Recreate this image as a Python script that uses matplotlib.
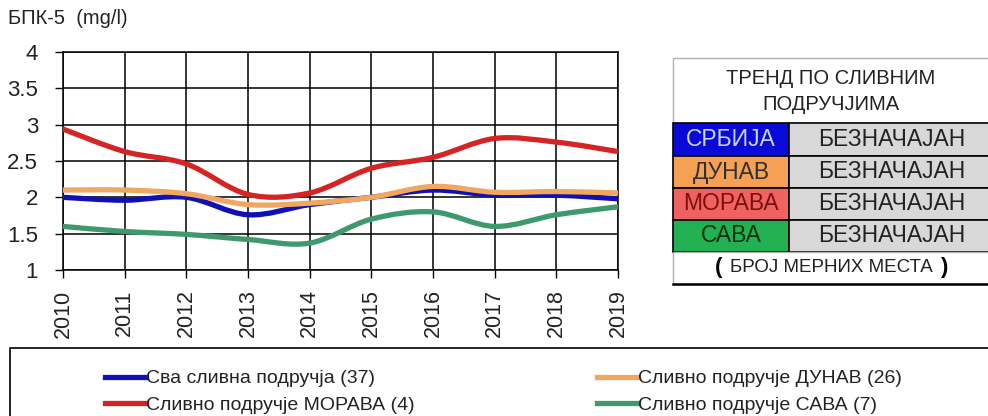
import matplotlib
matplotlib.use("Agg")
import matplotlib.pyplot as plt
from matplotlib.path import Path
from matplotlib.patches import PathPatch, Rectangle
from matplotlib.lines import Line2D

plt.rcParams['font.family'] = ['Liberation Sans', 'DejaVu Sans']

# podaci sa grafika
godine = [2010, 2011, 2012, 2013, 2014, 2015, 2016, 2017, 2018, 2019]
srbija = [2.00, 1.96, 2.00, 1.76, 1.90, 2.00, 2.10, 2.03, 2.03, 1.98]
dunav = [2.10, 2.10, 2.05, 1.90, 1.92, 2.00, 2.15, 2.07, 2.08, 2.06]
morava = [2.94, 2.63, 2.46, 2.04, 2.06, 2.40, 2.55, 2.81, 2.76, 2.63]
sava = [1.60, 1.53, 1.49, 1.42, 1.37, 1.70, 1.80, 1.60, 1.76, 1.87]

nazivi = ['Сва сливна подручја (37)', 'Сливно подручје ДУНАВ (26)',
          'Сливно подручје МОРАВА (4)', 'Сливно подручје САВА (7)']
boje = ['#1010b4', '#f0a860', '#d42424', '#3e9a6c']

trend_oblasti = ['СРБИЈА', 'ДУНАВ', 'МОРАВА', 'САВА']
trend_vrednosti = ['БЕЗНАЧАЈАН', 'БЕЗНАЧАЈАН', 'БЕЗНАЧАЈАН', 'БЕЗНАЧАЈАН']
trend_pozadina = ['#0a0ad8', '#f4a055', '#f06262', '#22b052']
trend_tekst = ['#c8d4ff', '#303030', '#7a1010', '#103010']

W, H = 988, 416


def fx(px):
    return px / W


def fy(py):
    return 1 - py / H


def glatka_putanja(xs, ys):
    # Excel-ov "smoothed line" (Bezier kroz tacke)
    pts = list(zip(xs, ys))
    n = len(pts)
    verts = [pts[0]]
    codes = [Path.MOVETO]
    for i in range(n - 1):
        p0 = pts[i - 1] if i > 0 else pts[i]
        p1 = pts[i]
        p2 = pts[i + 1]
        p3 = pts[i + 2] if i + 2 < n else pts[i + 1]
        c1 = (p1[0] + (p2[0] - p0[0]) / 6, p1[1] + (p2[1] - p0[1]) / 6)
        c2 = (p2[0] - (p3[0] - p1[0]) / 6, p2[1] - (p3[1] - p1[1]) / 6)
        verts += [c1, c2, p2]
        codes += [Path.CURVE4] * 3
    return Path(verts, codes)


fig = plt.figure(figsize=(W / 100, H / 100), dpi=100)
ax = fig.add_axes([fx(63), fy(270), fx(618) - fx(63), fy(52) - fy(270)])

ax.set_xlim(godine[0], godine[-1])
ax.set_ylim(1, 4)
ax.set_yticks([1, 1.5, 2, 2.5, 3, 3.5, 4])
ax.set_yticklabels(['1', '1.5', '2', '2.5', '3', '3.5', '4'])
ax.set_xticks(godine)
ax.set_xticklabels([str(g) for g in godine], rotation=90)
ax.tick_params(axis='both', labelsize=16, colors='black', labelcolor='#222222',
               length=6, width=1, direction='out')
ax.tick_params(axis='y', pad=12)
ax.tick_params(axis='x', pad=8, labelsize=15.5)
ax.grid(True, color='black', linewidth=1.1)
for s in ax.spines.values():
    s.set_color('black')
    s.set_linewidth(1.1)

serije = [srbija, dunav, morava, sava]
redosled = [1, 0, 3, 2]
for k in redosled:
    patch = PathPatch(glatka_putanja(godine, serije[k]), fill=False,
                      edgecolor=boje[k], linewidth=3.8, capstyle='round',
                      joinstyle='round', zorder=3 + k)
    ax.add_patch(patch)

fig.text(fx(8), fy(19), 'БПК-5  (mg/l)', fontsize=14.5, color='#222222',
         va='center', ha='left')

# legenda
fig.patches.append(Rectangle((fx(10), fy(420)), fx(990) - fx(10), fy(348) - fy(420),
                             transform=fig.transFigure, facecolor='white',
                             edgecolor='black', linewidth=1.2))
ručke = [Line2D([], [], color=boje[k], linewidth=3.8) for k in range(4)]
red = [0, 2, 1, 3]
leg = fig.legend([ručke[k] for k in red], [nazivi[k] for k in red], ncol=2,
                 loc='upper left', bbox_to_anchor=(fx(97), fy(362)),
                 frameon=False, fontsize=14, handlelength=2.1, handletextpad=0.0,
                 columnspacing=9.4, labelspacing=0.45, borderaxespad=0)
for t in leg.get_texts():
    t.set_color('#222222')

# tabela trenda
x0, x1, x2 = 673, 789, 995
fig.patches.append(Rectangle((fx(x0), fy(123)), fx(x2) - fx(x0), fy(58) - fy(123),
                             transform=fig.transFigure, facecolor='white',
                             edgecolor='#b0b0b0', linewidth=1))
fig.text(fx(831), fy(78), 'ТРЕНД ПО СЛИВНИМ', fontsize=14.5, ha='center',
         va='center', color='#222222')
fig.text(fx(831), fy(104), 'ПОДРУЧЈИМА', fontsize=14.5, ha='center',
         va='center', color='#222222')
redovi = [123, 156, 188, 220, 252]
for i in range(4):
    ya, yb = redovi[i], redovi[i + 1]
    fig.patches.append(Rectangle((fx(x0), fy(yb)), fx(x1) - fx(x0), fy(ya) - fy(yb),
                                 transform=fig.transFigure,
                                 facecolor=trend_pozadina[i], edgecolor='black',
                                 linewidth=1.2))
    fig.patches.append(Rectangle((fx(x1), fy(yb)), fx(x2) - fx(x1), fy(ya) - fy(yb),
                                 transform=fig.transFigure, facecolor='#d8d8d8',
                                 edgecolor='black', linewidth=1.2))
    ym = fy((ya + yb) / 2)
    fig.text(fx((x0 + x1) / 2), ym, trend_oblasti[i], fontsize=16.5, ha='center',
             va='center', color=trend_tekst[i])
    fig.text(fx(892), ym, trend_vrednosti[i], fontsize=16.5, ha='center',
             va='center', color='#222222')
fig.patches.append(Rectangle((fx(x0), fy(284)), fx(x2) - fx(x0), fy(252) - fy(284),
                             transform=fig.transFigure, facecolor='white',
                             edgecolor='#b0b0b0', linewidth=1))
fig.add_artist(Line2D([fx(x0), fx(x2)], [fy(284), fy(284)],
                      transform=fig.transFigure, color='black', linewidth=1.8))
fig.text(fx(719), fy(268), '(', fontsize=16, fontweight='bold', ha='center',
         va='center', color='black')
fig.text(fx(831), fy(268), 'БРОЈ МЕРНИХ МЕСТА', fontsize=13.5, ha='center',
         va='center', color='#222222')
fig.text(fx(944), fy(268), ')', fontsize=16, fontweight='bold', ha='center',
         va='center', color='black')

fig.savefig('out.png', dpi=100, facecolor='white')
